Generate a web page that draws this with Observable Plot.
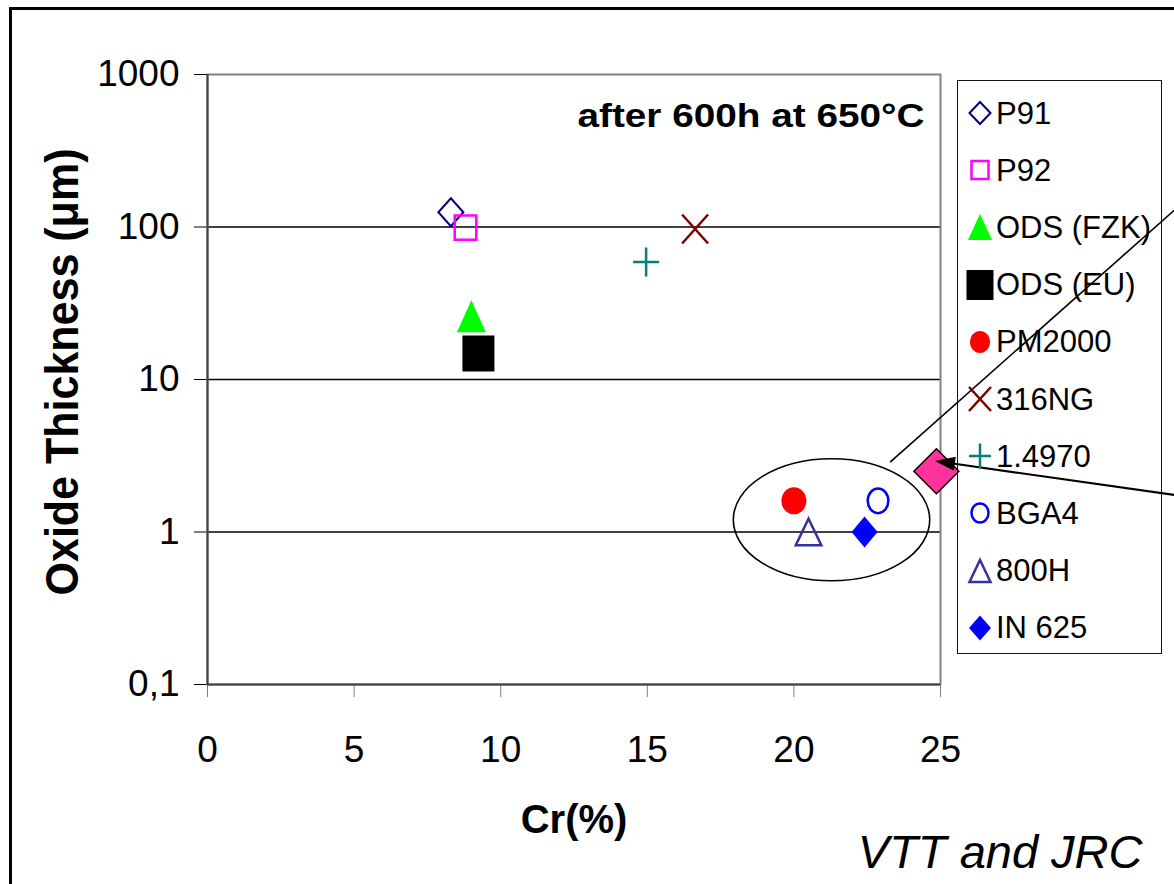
<!DOCTYPE html>
<html>
<head>
<meta charset="utf-8">
<script src="https://cdn.jsdelivr.net/npm/d3@7"></script>
<script src="https://cdn.jsdelivr.net/npm/@observablehq/plot@0.6"></script>
<style>
html, body { margin: 0; padding: 0; background: #fff; overflow: hidden; }
#wrap { position: relative; width: 1174px; height: 884px; overflow: hidden; font-family: "Liberation Sans", Arial, sans-serif; background: #fff; }
#chart { position: absolute; left: 0; top: 0; }
#outer { position: absolute; left: 9px; top: 7px; width: 3000px; height: 3000px; border-left: 3px solid #000; border-top: 3px solid #000; pointer-events: none; }
#legend { position: absolute; left: 957px; top: 80px; width: 203px; height: 572px; border: 1px solid #111; }
#legend svg { position: absolute; overflow: visible; }
#legend .lbl { position: absolute; font-size: 31px; line-height: 1; color: #000; white-space: nowrap; }
</style>
</head>
<body>
<div id="wrap">
  <div id="chart"></div>
  <div id="outer"></div>
  <div id="legend"></div>
</div>
<script>
// ---------------- data ----------------
const materials = ["P91", "P92", "ODS (FZK)", "ODS (EU)", "PM2000", "316NG", "1.4970", "BGA4", "800H", "IN 625"];
const crPercent = [8.3, 8.8, 9.0, 9.24, 20.0, 16.63, 14.96, 22.87, 20.5, 22.41];
const oxideThickness = [125, 99, 26, 14.8, 1.6, 97, 59, 1.6, 1.0, 1.0];

// highlighted (unlabelled) point pointed at by the arrow
const highlightCr = [24.86];
const highlightOxide = [2.5];

const xTicks = [0, 5, 10, 15, 20, 25];
const yTicks = [0.1, 1, 10, 100, 1000];
const yTickLabels = ["0,1", "1", "10", "100", "1000"];

const xLabel = "Cr(%)";
const yLabel = "Oxide Thickness (\u03bcm)";
const conditionLabel = "after 600h at 650\u00b0C";
const sourceLabel = "VTT and JRC";

// annotation geometry in data coordinates (Cr %, oxide µm)
const ellipseCr = [17.95, 24.65];
const ellipseOxide = [0.475, 3.0];
const leaderFrom = [23.3, 2.85];
const leaderTo = [34, 190];
const arrowFrom = [33.5, 1.68];
const arrowTo = [24.83, 2.9];

// ---------------- styles ----------------
const seriesStyle = {
  "P91":       {kind: "diamond",  fill: "none",    stroke: "#000080", sw: 2,   size: [12.5, 14],   legend: [10.5, 11]},
  "P92":       {kind: "square",   fill: "none",    stroke: "#FF00FF", sw: 2.5, size: [10.8, 12.2], legend: [8.5, 9]},
  "ODS (FZK)": {kind: "triangle", fill: "#00FF00", stroke: "none",    sw: 0,   size: [14.5, 16],   legend: [12, 13]},
  "ODS (EU)":  {kind: "square",   fill: "#000000", stroke: "none",    sw: 0,   size: [16, 18],     legend: [13.5, 15]},
  "PM2000":    {kind: "circle",   fill: "#FF0000", stroke: "none",    sw: 0,   size: [12.5, 13.5], legend: [10, 11]},
  "316NG":     {kind: "times",    fill: "none",    stroke: "#800000", sw: 2.5, size: [13, 14.5],   legend: [11, 12]},
  "1.4970":    {kind: "plus",     fill: "none",    stroke: "#008080", sw: 2.5, size: [13, 14.5],   legend: [11, 12.5]},
  "BGA4":      {kind: "circle",   fill: "none",    stroke: "#0000FF", sw: 2.5, size: [10.3, 12.3], legend: [8.5, 9.5]},
  "800H":      {kind: "triangle", fill: "none",    stroke: "#333399", sw: 2.5, size: [12.8, 13.3], legend: [10.5, 11]},
  "IN 625":    {kind: "diamond",  fill: "#0000FF", stroke: "none",    sw: 0,   size: [13, 15.5],   legend: [11, 12.5]}
};

function makeSymbol(kind, hw, hh) {
  return {
    draw(ctx) {
      switch (kind) {
        case "diamond":
          ctx.moveTo(0, -hh); ctx.lineTo(hw, 0); ctx.lineTo(0, hh); ctx.lineTo(-hw, 0); ctx.closePath(); break;
        case "square":
          ctx.moveTo(-hw, -hh); ctx.lineTo(hw, -hh); ctx.lineTo(hw, hh); ctx.lineTo(-hw, hh); ctx.closePath(); break;
        case "triangle":
          ctx.moveTo(0, -hh); ctx.lineTo(hw, hh); ctx.lineTo(-hw, hh); ctx.closePath(); break;
        case "circle": {
          const k = 0.5523;
          ctx.moveTo(hw, 0);
          ctx.bezierCurveTo(hw, k * hh, k * hw, hh, 0, hh);
          ctx.bezierCurveTo(-k * hw, hh, -hw, k * hh, -hw, 0);
          ctx.bezierCurveTo(-hw, -k * hh, -k * hw, -hh, 0, -hh);
          ctx.bezierCurveTo(k * hw, -hh, hw, -k * hh, hw, 0);
          ctx.closePath(); break;
        }
        case "times":
          ctx.moveTo(-hw, -hh); ctx.lineTo(hw, hh); ctx.moveTo(hw, -hh); ctx.lineTo(-hw, hh); break;
        case "plus":
          ctx.moveTo(-hw, 0); ctx.lineTo(hw, 0); ctx.moveTo(0, -hh); ctx.lineTo(0, hh); break;
      }
    }
  };
}

const rows = materials.map((m, i) => ({material: m, cr: crPercent[i], oxide: oxideThickness[i]}));
const highlightRows = highlightCr.map((c, i) => ({cr: c, oxide: highlightOxide[i]}));

const dotMarks = rows.map(r => {
  const s = seriesStyle[r.material];
  return Plot.dot([r], {
    x: "cr", y: "oxide", r: 10,
    symbol: makeSymbol(s.kind, s.size[0], s.size[1]),
    fill: s.fill, stroke: s.stroke, strokeWidth: s.sw
  });
});

function annotations(index, scales) {
  const {x, y} = scales;
  const g = d3.create("svg:g").attr("fill", "none").attr("stroke", "#000");
  const ex0 = x(ellipseCr[0]), ex1 = x(ellipseCr[1]);
  const ey0 = y(ellipseOxide[1]), ey1 = y(ellipseOxide[0]);
  g.append("ellipse")
    .attr("cx", (ex0 + ex1) / 2).attr("cy", (ey0 + ey1) / 2)
    .attr("rx", (ex1 - ex0) / 2).attr("ry", (ey1 - ey0) / 2)
    .attr("stroke-width", 1.6);
  g.append("line")
    .attr("x1", x(leaderFrom[0])).attr("y1", y(leaderFrom[1]))
    .attr("x2", x(leaderTo[0])).attr("y2", y(leaderTo[1]))
    .attr("stroke-width", 1.6);
  const x1 = x(arrowFrom[0]), y1 = y(arrowFrom[1]), x2 = x(arrowTo[0]), y2 = y(arrowTo[1]);
  const a = Math.atan2(y2 - y1, x2 - x1);
  const L = 20, W = 7;
  const bx = x2 - L * Math.cos(a), by = y2 - L * Math.sin(a);
  g.append("line").attr("x1", x1).attr("y1", y1).attr("x2", bx + 2 * Math.cos(a)).attr("y2", by + 2 * Math.sin(a)).attr("stroke-width", 2.2);
  g.append("path")
    .attr("d", `M${x2},${y2}L${bx + W * Math.sin(a)},${by - W * Math.cos(a)}L${bx - W * Math.sin(a)},${by + W * Math.cos(a)}Z`)
    .attr("fill", "#000").attr("stroke", "none");
  return g.node();
}

const chart = Plot.plot({
  width: 1174,
  height: 884,
  marginLeft: 207,
  marginRight: 234,
  marginTop: 74,
  marginBottom: 200,
  style: {fontSize: "37px", fontFamily: "'Liberation Sans', Arial, sans-serif", background: "white", color: "#000", overflow: "visible"},
  x: {domain: [0, 25], ticks: xTicks, tickSize: 13, tickPadding: 38, label: null, tickFormat: d => String(d)},
  y: {type: "log", domain: [0.1, 1000], ticks: yTicks, tickSize: 13, tickPadding: 15, label: null,
      tickFormat: d => yTickLabels[yTicks.indexOf(d)]},
  marks: [
    Plot.ruleY(yTicks.slice(1, -1), {stroke: "#000", strokeWidth: 1.5}),
    Plot.frame({stroke: "#808080", strokeWidth: 2}),
    Plot.ruleX([xTicks[0]], {stroke: "#404040", strokeWidth: 2}),
    Plot.ruleY([yTicks[0]], {stroke: "#404040", strokeWidth: 2}),
    ...dotMarks,
    Plot.dot(highlightRows, {x: "cr", y: "oxide", r: 10, symbol: makeSymbol("diamond", 22.5, 22.5), fill: "#FF3399", stroke: "#000", strokeWidth: 1.5}),
    annotations,
    Plot.text([conditionLabel], {text: d => d, frameAnchor: "top-right", textAnchor: "end", lineAnchor: "middle", dx: -16, dy: 42, fontSize: 33, fontWeight: "bold"}),
    Plot.text([xLabel], {text: d => d, frameAnchor: "bottom", textAnchor: "middle", lineAnchor: "middle", dy: 136, fontSize: 40, fontWeight: "bold"}),
    Plot.text([yLabel], {text: d => d, frameAnchor: "left", textAnchor: "middle", lineAnchor: "middle", rotate: -90, dx: -144, dy: -7.5, fontSize: 46, fontWeight: "bold"}),
    Plot.text([sourceLabel], {text: d => d, frameAnchor: "bottom-right", textAnchor: "end", lineAnchor: "middle", dx: 202, dy: 168, fontSize: 47, fontStyle: "italic"})
  ]
});
document.getElementById("chart").appendChild(chart);

// stretch a few texts to the widths they have in the figure
chart.querySelectorAll("text").forEach(t => {
  if (t.textContent === conditionLabel) { t.setAttribute("textLength", 347); t.setAttribute("lengthAdjust", "spacingAndGlyphs"); }
  if (t.textContent === yLabel) { t.setAttribute("textLength", 447); t.setAttribute("lengthAdjust", "spacingAndGlyphs"); }
});
// grey x ticks
chart.querySelectorAll('[aria-label^="x-axis"] line, [aria-label^="x-axis"] path').forEach(el => el.setAttribute("stroke", "#808080"));

// ---------------- legend ----------------
const legend = document.getElementById("legend");
const ns = "http://www.w3.org/2000/svg";
materials.forEach((m, i) => {
  const s = seriesStyle[m];
  const cy = 32 + i * 57.2;
  const svg = document.createElementNS(ns, "svg");
  svg.setAttribute("width", 44); svg.setAttribute("height", 44);
  svg.style.left = (21.5 - 22) + "px";
  svg.style.top = (cy - 22) + "px";
  const p = d3.path();
  makeSymbol(s.kind, s.legend[0], s.legend[1]).draw(p);
  const path = document.createElementNS(ns, "path");
  path.setAttribute("d", p.toString());
  path.setAttribute("transform", "translate(22,22)");
  path.setAttribute("fill", s.fill);
  path.setAttribute("stroke", s.stroke);
  path.setAttribute("stroke-width", s.sw);
  svg.appendChild(path);
  legend.appendChild(svg);
  const lbl = document.createElement("div");
  lbl.className = "lbl";
  lbl.textContent = m;
  lbl.style.left = "38px";
  lbl.style.top = (cy - 15.5) + "px";
  legend.appendChild(lbl);
});
</script>
</body>
</html>
